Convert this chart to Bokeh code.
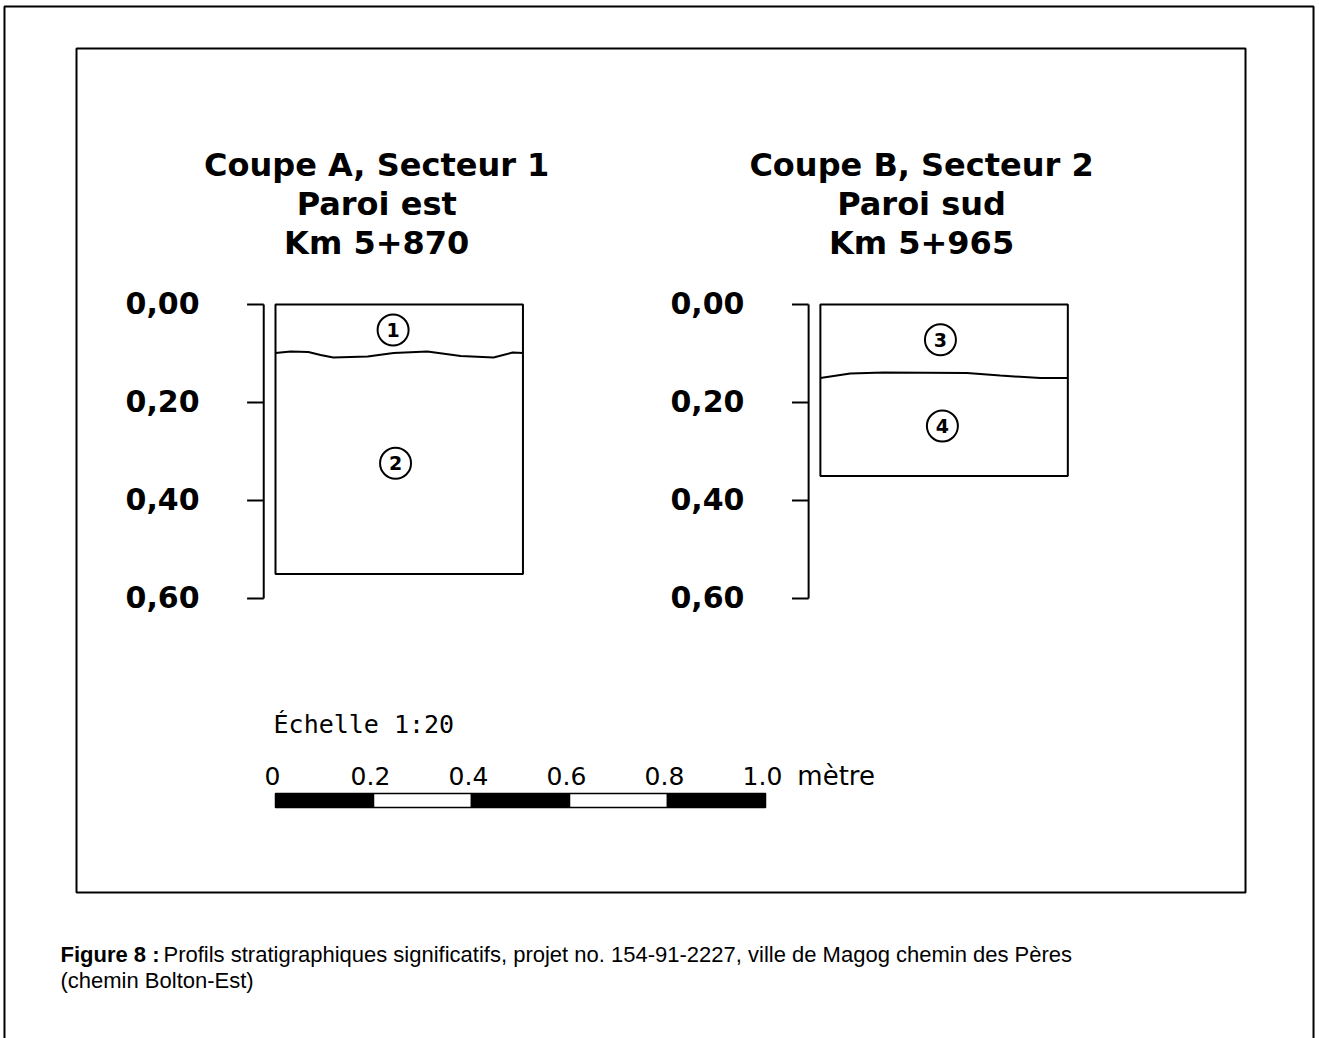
from bokeh.plotting import figure
from bokeh.models import Range1d
from bokeh.core.properties import value
from bokeh.embed import file_html
from bokeh.resources import INLINE

# ---------------- data (metres) ----------------
depth_ticks = [0.0, 0.2, 0.4, 0.6]
depth_labels = ["0,00", "0,20", "0,40", "0,60"]

title_A = ["Coupe A, Secteur 1", "Paroi est", "Km 5+870"]
title_B = ["Coupe B, Secteur 2", "Paroi sud", "Km 5+965"]

profile_A_width = 0.505
profile_A_depth = 0.55
profile_B_width = 0.505
profile_B_depth = 0.35

boundary_A_x = [0.0, 0.031, 0.067, 0.092, 0.118, 0.188, 0.241, 0.310, 0.378, 0.445, 0.484, 0.505]
boundary_A_depth = [0.099, 0.096, 0.097, 0.103, 0.108, 0.106, 0.099, 0.096, 0.105, 0.108, 0.098, 0.099]
boundary_B_x = [0.0, 0.061, 0.129, 0.299, 0.367, 0.449, 0.505]
boundary_B_depth = [0.150, 0.141, 0.139, 0.140, 0.145, 0.150, 0.150]

units_A = ["1", "2"]
units_A_x = [0.240, 0.245]
units_A_depth = [0.052, 0.324]
units_B = ["3", "4"]
units_B_x = [0.245, 0.249]
units_B_depth = [0.072, 0.248]

scale_title = "Échelle 1:20"
scale_ticks = [0.0, 0.2, 0.4, 0.6, 0.8, 1.0]
scale_labels = ["0", "0.2", "0.4", "0.6", "0.8", "1.0"]
scale_unit = "mètre"

caption_bold = "Figure 8 :"
caption_line1 = "Profils stratigraphiques significatifs, projet no. 154-91-2227, ville de Magog chemin des Pères"
caption_line2 = "(chemin Bolton-Est)"

# ---------------- layout ----------------
PX = 490.0                 # pixels per metre (scale 1:20 drawing)
W, H = 1319, 1038
OX, OY = 275.0, 304.0      # screen position of (0 m, 0 m depth)

PROFILE_A_X0 = 0.0
PROFILE_B_X0 = 1.112

p = figure(width=W, height=H, output_backend="svg", toolbar_location=None,
           x_range=Range1d(-OX / PX, (W - OX) / PX),
           y_range=Range1d((H - OY) / PX, -OY / PX),
           x_axis_location=None, y_axis_location=None, min_border=0)
p.grid.visible = False
p.outline_line_color = None
p.background_fill_color = "white"
p.border_fill_color = "white"

# outer page frame and inner drawing frame
p.line(x=[-0.5531, -0.5531, 2.1184, 2.1184], y=[1.60, -0.6082, -0.6082, 1.60],
       line_color="black", line_width=2)
p.quad(left=[-0.4061], right=[1.9796], top=[-0.5224], bottom=[1.2],
       fill_color=None, line_color="black", line_width=2)

BOLD = value("DejaVu Sans")


def profile(x0, width, depth, bx, bd, ulab, ux, ud, titles):
    # depth bracket
    xa = x0 - 0.024
    xt = xa - 0.034
    p.segment(x0=[xa], y0=[depth_ticks[0]], x1=[xa], y1=[depth_ticks[-1]],
              line_color="black", line_width=2)
    p.segment(x0=[xt] * len(depth_ticks), y0=depth_ticks, x1=[xa] * len(depth_ticks),
              y1=depth_ticks, line_color="black", line_width=2)
    p.text(x=[x0 - 0.155] * len(depth_ticks), y=depth_ticks, text=depth_labels,
           text_font=BOLD, text_font_style="bold", text_font_size="30px",
           text_align="right", text_baseline="middle", y_offset=-2)
    # profile box
    p.quad(left=[x0], right=[x0 + width], top=[0.0], bottom=[depth],
           fill_color=None, line_color="black", line_width=2)
    # layer boundary
    p.line(x=[x0 + v for v in bx], y=bd, line_color="black", line_width=2)
    # unit numbers
    p.scatter(x=[x0 + v for v in ux], y=ud, marker="circle", size=31,
              fill_color="white", line_color="black", line_width=2)
    p.text(x=[x0 + v for v in ux], y=ud, text=ulab, text_font=BOLD,
           text_font_style="bold", text_font_size="19px",
           text_align="center", text_baseline="middle")
    # titles
    cx = x0 + width / 2 - 0.046
    p.text(x=[cx] * 3, y=[-0.2857, -0.2051, -0.1255], text=titles,
           text_font=BOLD, text_font_style="bold", text_font_size="32px",
           text_align="center", text_baseline="middle")


profile(PROFILE_A_X0, profile_A_width, profile_A_depth, boundary_A_x, boundary_A_depth,
        units_A, units_A_x, units_A_depth, title_A)
profile(PROFILE_B_X0, profile_B_width, profile_B_depth, boundary_B_x, boundary_B_depth,
        units_B, units_B_x, units_B_depth, title_B)

# scale bar
SANS = value("DejaVu Sans")
MONO = value("DejaVu Sans Mono")
bar_top, bar_bot = 0.998, 1.0265
p.quad(left=scale_ticks[:-1], right=scale_ticks[1:], top=bar_top, bottom=bar_bot,
       fill_color=["black", "white", "black", "white", "black"],
       line_color="black", line_width=1.5)
p.text(x=scale_ticks, y=[0.962] * len(scale_ticks), text=scale_labels, text_font=SANS,
       text_font_size="25px", text_align="center", text_baseline="middle", x_offset=-3)
p.text(x=[scale_ticks[-1] + 0.065], y=[0.962], text=[scale_unit], text_font=SANS,
       text_font_size="26px", text_align="left", text_baseline="middle")
p.text(x=[-0.004], y=[0.857], text=[scale_title], text_font=MONO,
       text_font_size="25px", text_align="left", text_baseline="middle")

# caption
CAP = value("Liberation Sans")
cap_x = -0.4388
p.text(x=[cap_x], y=[1.3265], text=[caption_bold], text_font=CAP, text_font_style="bold",
       text_font_size="22px", text_align="left", text_baseline="middle")
p.text(x=[cap_x + 103 / PX], y=[1.3265], text=[caption_line1], text_font=CAP,
       text_font_size="22px", text_align="left", text_baseline="middle")
p.text(x=[cap_x], y=[1.3796], text=[caption_line2], text_font=CAP,
       text_font_size="22px", text_align="left", text_baseline="middle")

open("out.html", "w").write(file_html(p, INLINE))
